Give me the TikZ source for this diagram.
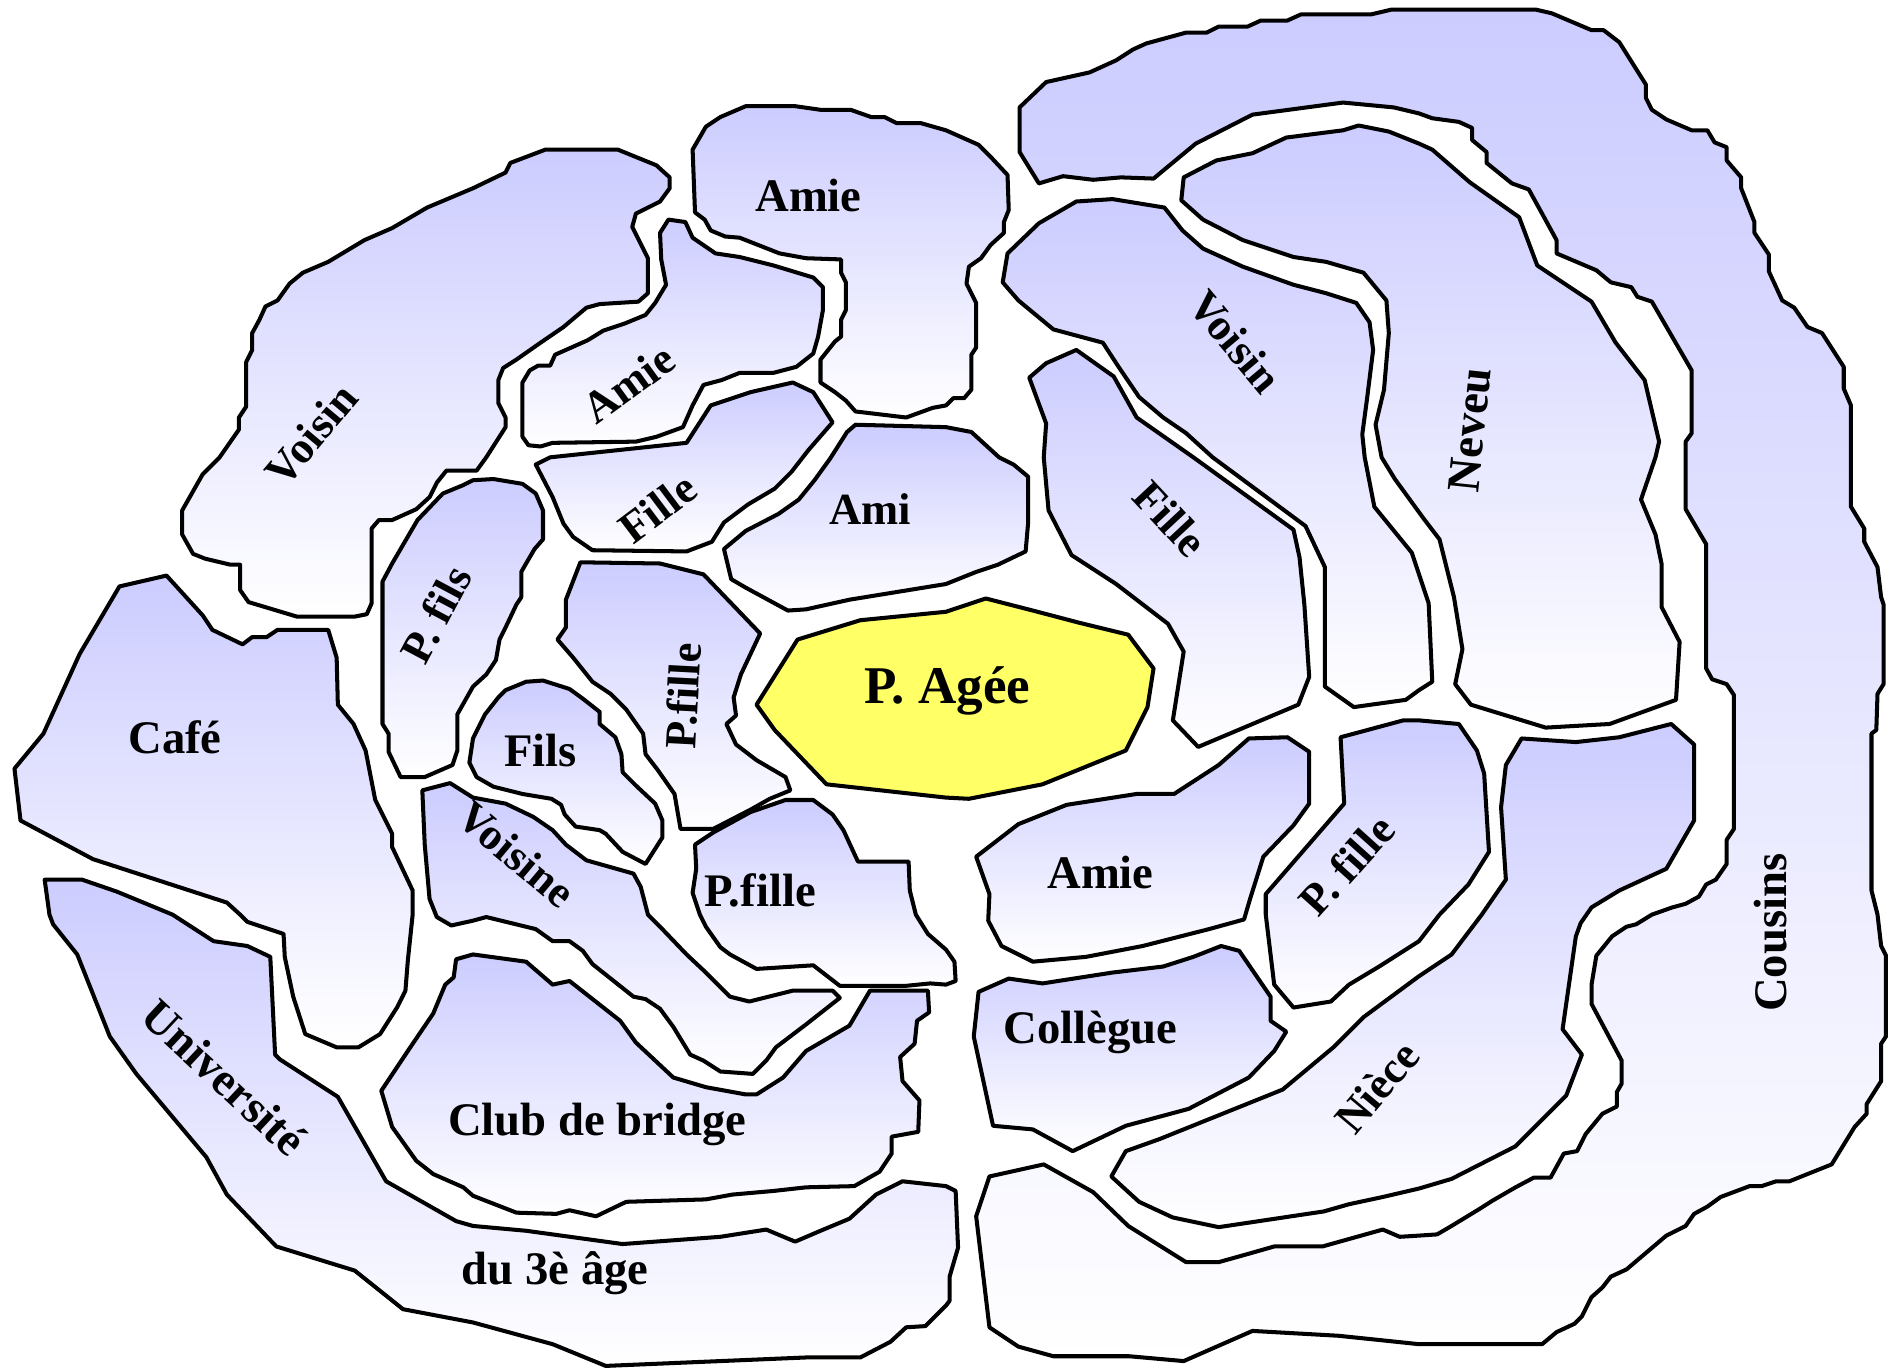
\documentclass[tikz,border=0pt]{standalone}
\usepackage{fontspec}
\setmainfont{Liberation Serif}
\definecolor{lavande}{RGB}{204,204,255}
\definecolor{jaune}{RGB}{255,255,102}
\tikzset{
  zone/.style={draw=black, line width=0.95pt, line join=round, top color=lavande, bottom color=white},
  lab/.style={font=\bfseries\fontsize{11}{13}\selectfont},
  labs/.style={font=\bfseries\fontsize{10.5}{12}\selectfont}
}
\begin{document}
\begin{tikzpicture}[x=0.01cm, y=-0.01cm]
    \useasboundingbox (0,0) rectangle (1568,1136);

    % Cousins
    \draw[zone] (845,89) -- (867,68) -- (903,60) -- (925,50) -- (939,41) -- (950,36) -- (983,27) -- (1000,27) -- (1010,22) -- (1034,22) -- (1045,17) -- (1067,17) -- (1078,12) -- (1136,12) -- (1153,8) -- (1273,8) -- (1286,11) -- (1319,25) -- (1329,25) -- (1342,35) -- (1364,70) -- (1364,81) -- (1369,91) -- (1381,99) -- (1402,108) -- (1415,108) -- (1421,118) -- (1431,122) -- (1431,133) -- (1443,147) -- (1443,156) -- (1454,184) -- (1454,193) -- (1466,211) -- (1466,225) -- (1477,249) -- (1487,255) -- (1498,271) -- (1510,276) -- (1528,304) -- (1528,322) -- (1534,336) -- (1534,420) -- (1545,438) -- (1545,449) -- (1556,470) -- (1559,495) -- (1561,501) -- (1561,567) -- (1556,575) -- (1555,605) -- (1551,608) -- (1551,738) -- (1556,758) -- (1559,784) -- (1563,792) -- (1563,859) -- (1559,865) -- (1559,896) -- (1547,915) -- (1547,923) -- (1537,934) -- (1518,965) -- (1483,979) -- (1472,979) -- (1460,983) -- (1450,983) -- (1426,992) -- (1415,1000) -- (1404,1006) -- (1397,1016) -- (1381,1024) -- (1348,1052) -- (1335,1058) -- (1328,1067) -- (1319,1075) -- (1311,1091) -- (1305,1097) -- (1290,1104) -- (1278,1114) -- (1176,1114) -- (1138,1110) -- (1109,1107) -- (1038,1103) -- (981,1128) -- (936,1124) -- (873,1124) -- (844,1116) -- (820,1100) -- (809,1008) -- (820,975) -- (865,965) -- (906,988) -- (935,1016) -- (983,1046) -- (1010,1046) -- (1035,1039) -- (1056,1033) -- (1096,1033) -- (1146,1019) -- (1160,1025) -- (1176,1024) -- (1191,1023) -- (1203,1016) -- (1226,1002) -- (1237,995) -- (1256,984) -- (1271,976) -- (1285,976) -- (1296,956) -- (1307,954) -- (1314,940) -- (1328,923) -- (1340,917) -- (1340,905) -- (1344,898) -- (1344,879) -- (1319,832) -- (1319,816) -- (1323,792) -- (1336,776) -- (1348,768) -- (1356,766) -- (1369,758) -- (1386,752) -- (1397,749) -- (1408,743) -- (1414,733) -- (1422,729) -- (1431,716) -- (1431,696) -- (1437,687) -- (1437,576) -- (1431,567) -- (1419,563) -- (1414,554) -- (1414,451) -- (1397,422) -- (1397,366) -- (1402,359) -- (1402,307) -- (1369,250) -- (1357,246) -- (1352,238) -- (1335,234) -- (1323,224) -- (1290,210) -- (1290,199) -- (1278,177) -- (1267,157) -- (1253,152) -- (1232,135) -- (1232,126) -- (1220,116) -- (1220,106) -- (1209,101) -- (1187,98) -- (1176,94) -- (1155,89) -- (1113,85) -- (1038,95) -- (991,119) -- (956,148) -- (929,147) -- (906,149) -- (881,146) -- (861,152) -- (845,126) -- cycle;

    % Neveu
    \draw[zone] (981,147) -- (1008,133) -- (1038,127) -- (1066,114) -- (1113,108) -- (1126,104) -- (1151,109) -- (1176,119) -- (1187,124) -- (1218,151) -- (1259,180) -- (1274,220) -- (1319,250) -- (1339,284) -- (1363,315) -- (1375,366) -- (1372,379) -- (1360,414) -- (1372,443) -- (1377,467) -- (1377,503) -- (1392,532) -- (1389,580) -- (1334,600) -- (1281,603) -- (1219,584) -- (1206,567) -- (1212,538) -- (1205,495) -- (1193,447) -- (1180,430) -- (1156,397) -- (1145,379) -- (1140,352) -- (1147,323) -- (1151,276) -- (1149,249) -- (1130,226) -- (1099,217) -- (1072,213) -- (1030,199) -- (997,182) -- (979,166) -- cycle;

    % Voisin (centre)
    \draw[zone] (831,234) -- (835,210) -- (861,185) -- (892,167) -- (922,165) -- (965,172) -- (980,191) -- (997,206) -- (1030,221) -- (1072,236) -- (1099,243) -- (1124,251) -- (1135,267) -- (1138,290) -- (1133,330) -- (1129,360) -- (1131,379) -- (1139,420) -- (1170,458) -- (1184,500) -- (1187,565) -- (1176,572) -- (1165,580) -- (1122,586) -- (1098,569) -- (1098,470) -- (1082,436) -- (1005,379) -- (983,359) -- (964,346) -- (944,329) -- (927,304) -- (914,284) -- (873,273) -- (844,249) -- cycle;

    % Fille (droite)
    \draw[zone] (853,313) -- (867,301) -- (892,290) -- (923,312) -- (942,346) -- (989,379) -- (1072,439) -- (1077,462) -- (1081,501) -- (1085,561) -- (1076,584) -- (993,619) -- (972,597) -- (981,540) -- (968,517) -- (925,484) -- (888,460) -- (869,423) -- (865,379) -- (867,351) -- cycle;

    % Voisin (gauche)
    \draw[zone] (392,156) -- (419,143) -- (423,135) -- (452,124) -- (512,124) -- (544,137) -- (555,147) -- (555,156) -- (547,167) -- (537,172) -- (527,177) -- (524,188) -- (537,214) -- (537,243) -- (529,250) -- (497,252) -- (486,255) -- (467,271) -- (448,284) -- (428,298) -- (417,305) -- (413,315) -- (413,334) -- (419,346) -- (419,354) -- (403,379) -- (395,390) -- (370,390) -- (362,400) -- (356,412) -- (345,422) -- (325,431) -- (314,431) -- (308,438) -- (308,500) -- (304,509) -- (294,511) -- (246,511) -- (206,499) -- (199,489) -- (199,468) -- (191,468) -- (170,463) -- (160,459) -- (151,443) -- (151,423) -- (168,393) -- (182,379) -- (198,356) -- (198,346) -- (204,337) -- (204,300) -- (209,290) -- (209,276) -- (215,265) -- (220,254) -- (230,249) -- (240,235) -- (251,226) -- (272,217) -- (302,199) -- (325,189) -- (354,172) -- cycle;

    % Amie (haut)
    \draw[zone] (574,124) -- (585,105) -- (597,97) -- (618,88) -- (659,88) -- (680,91) -- (705,91) -- (722,97) -- (733,97) -- (743,102) -- (763,102) -- (784,108) -- (811,120) -- (821,130) -- (835,145) -- (836,174) -- (832,184) -- (832,193) -- (821,203) -- (813,214) -- (803,221) -- (801,235) -- (809,251) -- (809,288) -- (805,294) -- (805,323) -- (799,330) -- (790,330) -- (784,336) -- (773,338) -- (751,346) -- (709,341) -- (701,332) -- (692,325) -- (680,317) -- (680,298) -- (692,283) -- (697,279) -- (697,265) -- (701,257) -- (701,234) -- (697,226) -- (697,215) -- (668,214) -- (646,210) -- (613,197) -- (601,196) -- (589,191) -- (584,182) -- (576,176) -- cycle;

    % Amie (penchee)
    \draw[zone] (554,182) -- (568,184) -- (574,197) -- (593,210) -- (613,213) -- (641,220) -- (674,230) -- (682,238) -- (682,257) -- (678,279) -- (674,293) -- (660,304) -- (641,309) -- (613,309) -- (598,315) -- (583,319) -- (574,336) -- (566,354) -- (544,362) -- (527,366) -- (458,367) -- (448,370) -- (438,369) -- (433,362) -- (433,317) -- (439,307) -- (446,303) -- (456,303) -- (460,294) -- (487,282) -- (500,274) -- (518,268) -- (535,261) -- (543,251) -- (552,236) -- (548,215) -- (547,193) -- cycle;

    % Fille (haut)
    \draw[zone] (444,385) -- (456,379) -- (569,367) -- (589,336) -- (622,325) -- (657,317) -- (674,325) -- (690,350) -- (670,373) -- (656,391) -- (642,405) -- (620,418) -- (600,433) -- (590,449) -- (569,457) -- (491,456) -- (475,445) -- (467,434) -- (458,412) -- cycle;

    % Ami
    \draw[zone] (702,358) -- (709,352) -- (784,354) -- (805,358) -- (828,379) -- (840,385) -- (852,395) -- (852,434) -- (850,457) -- (827,468) -- (809,474) -- (784,484) -- (704,497) -- (668,505) -- (653,506) -- (618,487) -- (606,480) -- (600,455) -- (618,440) -- (645,426) -- (662,414) -- (675,398) -- (688,380) -- cycle;

    % P. fils
    \draw[zone] (384,402) -- (392,398) -- (409,397) -- (433,401) -- (444,409) -- (450,423) -- (450,447) -- (443,455) -- (436,467) -- (432,474) -- (432,495) -- (428,501) -- (419,520) -- (414,530) -- (411,547) -- (403,559) -- (392,569) -- (379,592) -- (379,622) -- (375,634) -- (352,644) -- (332,644) -- (322,623) -- (322,608) -- (317,600) -- (317,482) -- (325,467) -- (346,431) -- (367,409) -- cycle;

    % P.fille (verticale)
    \draw[zone] (481,466) -- (547,467) -- (583,476) -- (630,525) -- (622,542) -- (614,559) -- (608,578) -- (610,593) -- (602,600) -- (610,617) -- (627,630) -- (651,644) -- (655,655) -- (638,662) -- (622,671) -- (591,687) -- (564,687) -- (559,658) -- (545,638) -- (535,625) -- (533,608) -- (519,588) -- (506,575) -- (491,565) -- (475,545) -- (462,530) -- (469,520) -- (469,497) -- cycle;

    % Fils
    \draw[zone] (413,578) -- (419,572) -- (436,565) -- (450,564) -- (472,571) -- (483,579) -- (497,590) -- (497,600) -- (510,611) -- (515,625) -- (516,640) -- (527,651) -- (543,666) -- (549,680) -- (549,694) -- (535,716) -- (516,706) -- (502,691) -- (497,688) -- (477,685) -- (468,675) -- (465,667) -- (457,662) -- (433,658) -- (409,652) -- (395,644) -- (389,632) -- (392,612) -- (402,592) -- cycle;

    % Voisine
    \draw[zone] (350,655) -- (373,649) -- (392,661) -- (419,666) -- (442,677) -- (458,688) -- (469,700) -- (486,713) -- (525,724) -- (531,735) -- (537,758) -- (547,768) -- (569,791) -- (585,806) -- (605,826) -- (621,830) -- (657,821) -- (690,821) -- (696,827) -- (668,849) -- (643,868) -- (635,879) -- (624,890) -- (597,888) -- (583,879) -- (572,874) -- (558,851) -- (547,836) -- (535,828) -- (525,826) -- (491,799) -- (483,788) -- (472,780) -- (458,780) -- (444,770) -- (403,760) -- (392,763) -- (374,767) -- (362,760) -- (356,745) -- (352,700) -- cycle;

    % P.fille (bas)
    \draw[zone] (576,700) -- (591,690) -- (622,673) -- (651,663) -- (674,663) -- (690,675) -- (699,688) -- (711,714) -- (753,714) -- (754,738) -- (759,758) -- (769,774) -- (784,787) -- (791,797) -- (792,813) -- (784,816) -- (771,815) -- (751,817) -- (696,817) -- (674,800) -- (627,803) -- (605,791) -- (597,785) -- (585,768) -- (580,758) -- (574,740) -- (577,720) -- cycle;

    % Cafe
    \draw[zone] (99,486) -- (138,477) -- (168,510) -- (176,522) -- (201,534) -- (209,528) -- (221,528) -- (230,522) -- (272,522) -- (279,545) -- (280,584) -- (293,600) -- (303,622) -- (311,663) -- (325,691) -- (325,702) -- (342,738) -- (342,758) -- (338,796) -- (336,821) -- (329,835) -- (315,857) -- (297,868) -- (279,868) -- (253,857) -- (243,826) -- (236,793) -- (235,774) -- (205,764) -- (199,758) -- (188,748) -- (77,712) -- (17,680) -- (12,637) -- (36,608) -- (66,542) -- cycle;

    % Universite du 3e age
    \draw[zone] (37,729) -- (68,729) -- (97,739) -- (143,758) -- (177,780) -- (205,784) -- (224,793) -- (228,874) -- (232,878) -- (280,909) -- (320,979) -- (378,1012) -- (392,1016) -- (436,1020) -- (516,1031) -- (597,1025) -- (635,1019) -- (659,1029) -- (680,1020) -- (704,1010) -- (726,990) -- (748,979) -- (784,983) -- (792,987) -- (794,1034) -- (787,1058) -- (787,1078) -- (784,1082) -- (767,1099) -- (751,1100) -- (738,1112) -- (713,1125) -- (668,1125) -- (502,1132) -- (458,1114) -- (392,1096) -- (334,1085) -- (294,1053) -- (229,1033) -- (188,990) -- (171,959) -- (113,890) -- (91,859) -- (64,791) -- (44,766) -- (41,758) -- cycle;

    % Club de bridge
    \draw[zone] (392,791) -- (436,797) -- (458,816) -- (472,813) -- (514,846) -- (527,864) -- (558,893) -- (585,901) -- (618,907) -- (627,907) -- (649,893) -- (668,871) -- (704,850) -- (721,821) -- (769,821) -- (770,839) -- (760,846) -- (758,865) -- (746,876) -- (748,896) -- (762,912) -- (761,938) -- (739,942) -- (739,956) -- (729,971) -- (708,983) -- (668,984) -- (641,987) -- (607,990) -- (585,994) -- (519,996) -- (494,1008) -- (472,1003) -- (461,1006) -- (428,1005) -- (392,991) -- (384,984) -- (359,973) -- (345,962) -- (325,934) -- (316,904) -- (340,868) -- (359,840) -- (369,816) -- (376,810) -- (378,795) -- cycle;

    % Collegue
    \draw[zone] (811,822) -- (836,811) -- (864,815) -- (922,806) -- (964,801) -- (989,793) -- (1012,784) -- (1027,788) -- (1053,826) -- (1053,846) -- (1066,855) -- (1056,871) -- (1035,893) -- (985,919) -- (933,933) -- (889,954) -- (856,936) -- (823,933) -- (807,859) -- cycle;

    % Amie (bas)
    \draw[zone] (809,710) -- (844,683) -- (884,667) -- (942,658) -- (973,658) -- (1010,634) -- (1035,612) -- (1067,611) -- (1085,623) -- (1085,666) -- (1072,684) -- (1047,710) -- (1036,745) -- (1031,762) -- (1002,770) -- (947,784) -- (900,793) -- (856,797) -- (830,784) -- (819,763) -- (820,741) -- cycle;

    % P. fille (droite)
    \draw[zone] (1111,611) -- (1163,597) -- (1176,597) -- (1209,600) -- (1224,622) -- (1230,641) -- (1234,706) -- (1217,733) -- (1193,758) -- (1176,780) -- (1143,801) -- (1118,816) -- (1103,830) -- (1072,835) -- (1056,816) -- (1049,758) -- (1049,741) -- (1114,666) -- cycle;

    % Niece
    \draw[zone] (1261,612) -- (1306,615) -- (1342,611) -- (1385,600) -- (1404,617) -- (1404,680) -- (1381,720) -- (1342,738) -- (1319,752) -- (1310,765) -- (1306,776) -- (1295,853) -- (1311,874) -- (1298,908) -- (1256,950) -- (1203,977) -- (1176,985) -- (1146,992) -- (1118,998) -- (1097,1004) -- (1010,1017) -- (972,1009) -- (944,996) -- (921,975) -- (933,954) -- (961,944) -- (1063,903) -- (1105,868) -- (1130,843) -- (1176,809) -- (1203,791) -- (1228,758) -- (1248,729) -- (1244,669) -- (1248,634) -- cycle;

    % P. Agee
    \draw[line width=0.95pt, line join=round, fill=jaune] (661,530) -- (713,514) -- (784,507) -- (817,496) -- (856,506) -- (894,516) -- (935,526) -- (956,554) -- (951,586) -- (933,622) -- (864,650) -- (803,662) -- (784,661) -- (685,650) -- (642,605) -- (627,584) -- cycle;

    \node[lab, font=\bfseries\fontsize{12.5}{14}\selectfont] (agee) at (785,573) {P. Agée};
    \node[lab] (amie1) at (670,162) {Amie};
    \node[labs, rotate=36] (amie2) at (521,318) {Amie};
    \node[labs, rotate=50] (voisin1) at (258,360) {Voisin};
    \node[labs, rotate=37] (fille1) at (545,421) {Fille};
    \node[labs] (ami) at (721,422) {Ami};
    \node[labs, rotate=62] (pfils) at (361,509) {P. fils};
    \node[labs, rotate=87] (pfille1) at (566,577) {P.fille};
    \node[lab] (fils) at (448,622) {Fils};
    \node[labs, rotate=-40] (voisine) at (428,708) {Voisine};
    \node[lab] (pfille2) at (630,738) {P.fille};
    \node[lab] (cafe) at (145,611) {Café};
    \node[lab, rotate=-43] (univ) at (186,893) {Université};
    \node[lab] (age) at (460,1055) {du 3è âge};
    \node[lab] (club) at (495,932) {Club de bridge};
    \node[lab] (collegue) at (904,856) {Collègue};
    \node[lab] (amie3) at (912,723) {Amie};
    \node[labs, rotate=48] (pfille3) at (1116,717) {P. fille};
    \node[labs, rotate=50] (niece) at (1141,901) {Nièce};
    \node[labs, rotate=-50] (voisin2) at (1024,283) {Voisin};
    \node[labs, rotate=-47] (fille2) at (970,430) {Fille};
    \node[lab, rotate=84] (neveu) at (1218,356) {Neveu};
    \node[lab, rotate=90] (cousins) at (1467,773) {Cousins};
\end{tikzpicture}
\end{document}
